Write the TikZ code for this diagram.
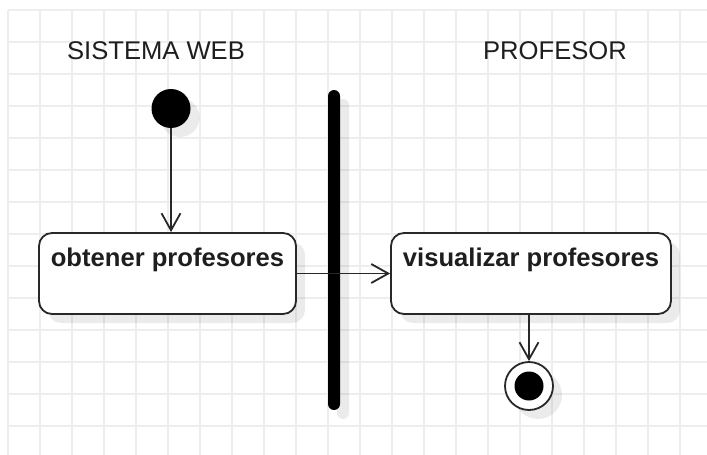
\documentclass[tikz,border=0pt]{standalone}
\usepackage{fontspec}
\setmainfont{Liberation Sans}
\usetikzlibrary{arrows.meta,shadows,calc}
\definecolor{gridc}{RGB}{238,238,238}
\definecolor{edgec}{RGB}{40,40,40}
\definecolor{inkc}{RGB}{30,30,30}
\begin{document}
\begin{tikzpicture}[x=1pt,y=-1pt,
  gridline/.style={draw=gridc,line width=1.6pt},
  softshadow/.style={drop shadow={shadow xshift=9pt,shadow yshift=-9pt,fill=black,opacity=0.08}},
  actbox/.style={rectangle,rounded corners=13pt,draw=edgec,line width=1.8pt,fill=white,
    minimum height=81pt,inner sep=0pt,softshadow},
  lanetitle/.style={anchor=base,inner sep=0pt,text=inkc,font=\fontsize{25.6}{30}\selectfont},
  acttext/.style={anchor=base,inner sep=0pt,text=inkc,font=\fontsize{25.6}{30}\selectfont\bfseries},
  startdot/.style={circle,fill=black,minimum size=39pt,inner sep=0pt,softshadow},
  syncbar/.style={rectangle,fill=black,rounded corners=6pt,minimum width=12pt,
    minimum height=320pt,inner sep=0pt,softshadow},
  endring/.style={circle,draw=edgec,line width=1.8pt,fill=white,minimum size=48pt,inner sep=0pt,softshadow},
  enddot/.style={circle,fill=black,minimum size=29pt,inner sep=0pt},
  flow/.style={draw=edgec,line width=1.8pt,-{Straight Barb[length=17pt,width=19pt,line width=1.8pt]}},
  plain/.style={draw=edgec,line width=1.8pt}
]
% canvas and grid
\useasboundingbox (0,0) rectangle (707,455);
\fill[white] (0,0) rectangle (707,455);
\foreach \gx in {0,...,21} \draw[gridline] (8+32*\gx,10) -- (8+32*\gx,455);
\foreach \gy in {0,...,13} \draw[gridline] (8,10+32*\gy) -- (707,10+32*\gy);

% swimlane titles
\node[lanetitle] (laneA) at (156,59.5) {SISTEMA WEB};
\node[lanetitle] (laneB) at (555,59.5) {PROFESOR};

% initial state
\node[startdot] (ini) at (171,108.5) {};

% activities
\node[actbox,minimum width=257pt] (obt) at (167.5,273.5) {};
\node[acttext] (obtT) at ($(obt.north)+(0,34)$) {obtener profesores};
\node[actbox,minimum width=280pt] (vis) at (531,273.5) {};
\node[acttext] (visT) at ($(vis.north)+(0,34)$) {visualizar profesores};

% fork/join bar
\node[syncbar] (bar) at (334,250) {};

% final state
\node[endring] (fin) at (529,386) {};
\node[enddot] (finin) at (fin) {};

% transitions
\draw[flow] (ini) -- (ini |- obt.north);
\draw[flow] (obt.east) -- (vis.west);
\draw[flow] (vis.south -| fin) -- (fin);
\end{tikzpicture}
\end{document}
